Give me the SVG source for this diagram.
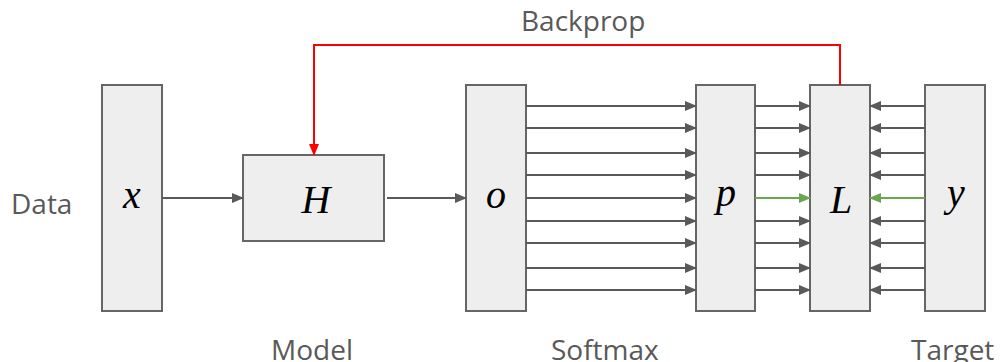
<svg xmlns="http://www.w3.org/2000/svg" width="1002" height="362" viewBox="0 0 1002 362">
  <defs>
    <marker id="ah" markerWidth="12" markerHeight="10" refX="11" refY="5" orient="auto" markerUnits="userSpaceOnUse">
      <path d="M0,0 L12,5 L0,10 Z" fill="#595959"/>
    </marker>
    <marker id="ahg" markerWidth="12" markerHeight="10" refX="11" refY="5" orient="auto" markerUnits="userSpaceOnUse">
      <path d="M0,0 L12,5 L0,10 Z" fill="#6aa84f"/>
    </marker>
    <marker id="ahr" markerWidth="12" markerHeight="10" refX="11" refY="5" orient="auto" markerUnits="userSpaceOnUse">
      <path d="M0,0 L12,5 L0,10 Z" fill="#ff0000"/>
    </marker>
  </defs>
  <style>
    .box { fill: #eeeeee; stroke: #666666; stroke-width: 2; }
    .var { font-family: "Liberation Serif", serif; font-style: italic; font-size: 40px; fill: #000000; text-anchor: middle; }
    .lbl { font-family: "Open Sans", "DejaVu Sans", sans-serif; font-size: 28px; fill: #595959; }
    .c { stroke: #595959; stroke-width: 2; fill: none; marker-end: url(#ah); }
    .g { stroke: #6aa84f; stroke-width: 2; fill: none; marker-end: url(#ahg); }
  </style>

  <!-- side labels -->
  <text class="lbl" x="11" y="214">Data</text>
  <text class="lbl" x="521" y="31">Backprop</text>
  <text class="lbl" x="271" y="360">Model</text>
  <text class="lbl" x="551" y="360">Softmax</text>
  <text class="lbl" x="911" y="360">Target</text>

  <g id="node-x">
    <rect class="box" x="102" y="85" width="60" height="226"/>
    <text class="var" x="132" y="208">x</text>
  </g>
  <g id="node-H">
    <rect class="box" x="243" y="155" width="141" height="86"/>
    <text class="var" x="316" y="213">H</text>
  </g>
  <g id="node-o">
    <rect class="box" x="466" y="85" width="60" height="226"/>
    <text class="var" x="496" y="208">o</text>
  </g>
  <g id="node-p">
    <rect class="box" x="696" y="85" width="59" height="226"/>
    <text class="var" x="726" y="206">p</text>
  </g>
  <g id="node-L">
    <rect class="box" x="810" y="85" width="60" height="226"/>
    <text class="var" x="841" y="213">L</text>
  </g>
  <g id="node-y">
    <rect class="box" x="925" y="85" width="60" height="226"/>
    <text class="var" x="956" y="206">y</text>
  </g>

  <g id="connectors">
    <line class="c" x1="162" y1="198" x2="243" y2="198"/>
    <line class="c" x1="387" y1="198" x2="466" y2="198"/>

    <!-- o to p -->
    <line class="c" x1="526" y1="106" x2="696" y2="106"/>
    <line class="c" x1="526" y1="128" x2="696" y2="128"/>
    <line class="c" x1="526" y1="153" x2="696" y2="153"/>
    <line class="c" x1="526" y1="175" x2="696" y2="175"/>
    <line class="c" x1="526" y1="198" x2="696" y2="198"/>
    <line class="c" x1="526" y1="221" x2="696" y2="221"/>
    <line class="c" x1="526" y1="243" x2="696" y2="243"/>
    <line class="c" x1="526" y1="268" x2="696" y2="268"/>
    <line class="c" x1="526" y1="290" x2="696" y2="290"/>

    <!-- p to L -->
    <line class="c" x1="755" y1="106" x2="810" y2="106"/>
    <line class="c" x1="755" y1="128" x2="810" y2="128"/>
    <line class="c" x1="755" y1="153" x2="810" y2="153"/>
    <line class="c" x1="755" y1="175" x2="810" y2="175"/>
    <line class="g" x1="755" y1="198" x2="810" y2="198"/>
    <line class="c" x1="755" y1="221" x2="810" y2="221"/>
    <line class="c" x1="755" y1="243" x2="810" y2="243"/>
    <line class="c" x1="755" y1="268" x2="810" y2="268"/>
    <line class="c" x1="755" y1="290" x2="810" y2="290"/>

    <!-- y to L -->
    <line class="c" x1="925" y1="106" x2="870" y2="106"/>
    <line class="c" x1="925" y1="128" x2="870" y2="128"/>
    <line class="c" x1="925" y1="153" x2="870" y2="153"/>
    <line class="c" x1="925" y1="175" x2="870" y2="175"/>
    <line class="g" x1="925" y1="198" x2="870" y2="198"/>
    <line class="c" x1="925" y1="221" x2="870" y2="221"/>
    <line class="c" x1="925" y1="243" x2="870" y2="243"/>
    <line class="c" x1="925" y1="268" x2="870" y2="268"/>
    <line class="c" x1="925" y1="290" x2="870" y2="290"/>

    <!-- backprop -->
    <path d="M840,85 V45 H314 V155" stroke="#ff0000" stroke-width="2" fill="none" marker-end="url(#ahr)"/>
  </g>
</svg>
